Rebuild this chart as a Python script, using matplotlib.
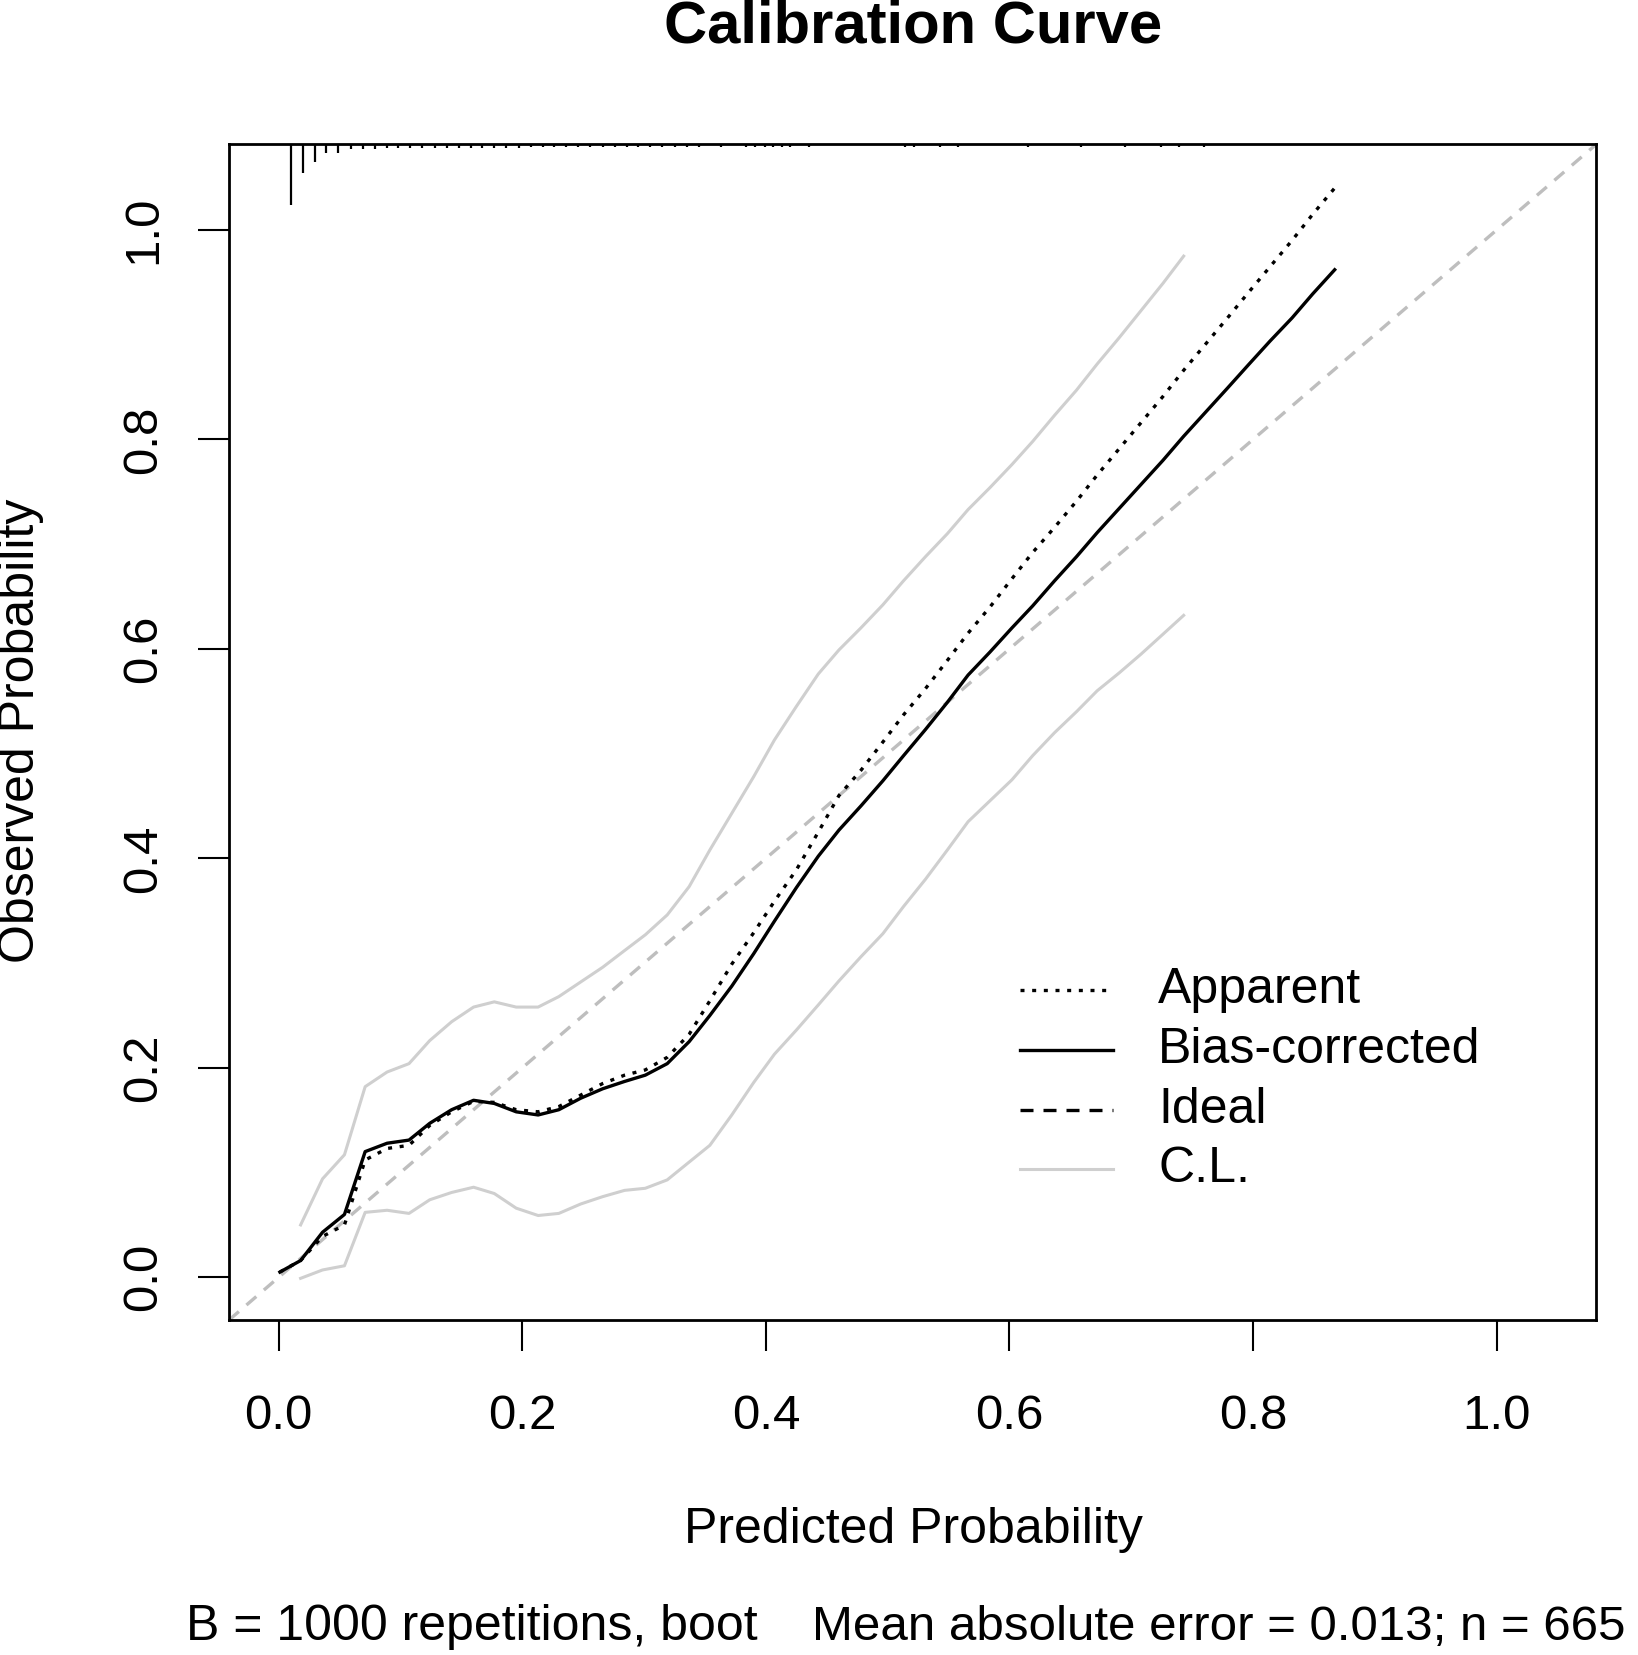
import matplotlib
matplotlib.use("Agg")
import matplotlib.pyplot as plt

plt.rcParams['font.family'] = ['Liberation Sans', 'DejaVu Sans']

# grid of predicted probabilities where the curves are evaluated
pred = [0.001, 0.018, 0.036, 0.054, 0.071, 0.089, 0.107, 0.124, 0.142, 0.160,
        0.177, 0.195, 0.213, 0.230, 0.248, 0.266, 0.284, 0.301, 0.319, 0.337,
        0.354, 0.372, 0.390, 0.407, 0.425, 0.443, 0.460, 0.478, 0.496, 0.513,
        0.531, 0.549, 0.566, 0.584, 0.602, 0.619, 0.637, 0.655, 0.672, 0.690,
        0.708, 0.726, 0.743, 0.761, 0.779, 0.796, 0.814, 0.832, 0.849, 0.867]

apparent = [0.005, 0.016, 0.039, 0.050, 0.112, 0.123, 0.126, 0.145, 0.158, 0.168,
            0.167, 0.160, 0.158, 0.163, 0.174, 0.185, 0.193, 0.198, 0.210, 0.232,
            0.264, 0.299, 0.329, 0.359, 0.389, 0.425, 0.460, 0.484, 0.511, 0.537,
            0.562, 0.589, 0.615, 0.640, 0.667, 0.692, 0.716, 0.741, 0.766, 0.791,
            0.816, 0.841, 0.866, 0.891, 0.916, 0.940, 0.965, 0.990, 1.015, 1.040]

bias_corrected = [0.005, 0.016, 0.043, 0.060, 0.120, 0.128, 0.131, 0.147, 0.160, 0.169,
                  0.166, 0.158, 0.155, 0.160, 0.171, 0.180, 0.187, 0.193, 0.204, 0.225,
                  0.250, 0.278, 0.309, 0.340, 0.372, 0.402, 0.427, 0.450, 0.474, 0.498,
                  0.523, 0.549, 0.575, 0.597, 0.620, 0.641, 0.665, 0.688, 0.711, 0.734,
                  0.757, 0.780, 0.803, 0.826, 0.849, 0.871, 0.894, 0.916, 0.939, 0.962]

# confidence limits cover pred[1:43]
cl_upper = [0.050, 0.094, 0.117, 0.182, 0.196, 0.204, 0.226, 0.244, 0.258, 0.263,
            0.258, 0.258, 0.268, 0.282, 0.296, 0.312, 0.327, 0.346, 0.373, 0.408,
            0.443, 0.478, 0.513, 0.545, 0.576, 0.599, 0.620, 0.642, 0.665, 0.688,
            0.710, 0.733, 0.754, 0.776, 0.798, 0.823, 0.847, 0.872, 0.897, 0.923,
            0.949, 0.975]
cl_lower = [-0.001, 0.007, 0.011, 0.062, 0.064, 0.061, 0.074, 0.081, 0.086, 0.080,
            0.066, 0.059, 0.061, 0.070, 0.077, 0.083, 0.085, 0.093, 0.110, 0.126,
            0.155, 0.186, 0.213, 0.236, 0.260, 0.283, 0.306, 0.328, 0.354, 0.380,
            0.408, 0.435, 0.455, 0.475, 0.498, 0.520, 0.540, 0.560, 0.577, 0.595,
            0.614, 0.632]

# distribution of predicted risks (spikes hanging from the top of the box)
rug_x = [0.010, 0.020, 0.030, 0.039, 0.049, 0.059, 0.069, 0.079, 0.089, 0.098,
         0.108, 0.118, 0.128, 0.138, 0.148, 0.158, 0.167, 0.177, 0.187, 0.197,
         0.207, 0.217, 0.226, 0.236, 0.246, 0.256, 0.266, 0.276, 0.286, 0.295,
         0.305, 0.315, 0.325, 0.335, 0.345, 0.363, 0.384, 0.391, 0.399, 0.406,
         0.413, 0.420, 0.435, 0.514, 0.522, 0.543, 0.558, 0.615, 0.659, 0.695,
         0.724, 0.739, 0.760]
rug_len = [0.058, 0.027, 0.017, 0.0085, 0.0085, 0.004, 0.004, 0.004, 0.0035, 0.0035,
           0.003, 0.003, 0.003, 0.003, 0.003, 0.003, 0.003, 0.003, 0.003, 0.003,
           0.0025, 0.0025, 0.0025, 0.0025, 0.0025, 0.0025, 0.0025, 0.0025, 0.0025, 0.0025,
           0.0025, 0.0025, 0.0025, 0.0025, 0.0025, 0.002, 0.002, 0.002, 0.002, 0.002,
           0.002, 0.002, 0.002, 0.002, 0.002, 0.002, 0.002, 0.002, 0.002, 0.002,
           0.002, 0.002, 0.002]

legend_labels = ['Apparent', 'Bias-corrected', 'Ideal', 'C.L.']
ticks = [0.0, 0.2, 0.4, 0.6, 0.8, 1.0]
lim = (-0.0408, 1.0816)

fs = 36
lw = 2.4
dotted = (0, (1.2, 2.3))
dashed = (0, (3.9, 3.0))
light = '#CFCFCF'

fig = plt.figure(figsize=(16.38, 16.55), dpi=100)
ax = fig.add_axes([0.1398, 0.2024, 0.8346, 0.7103])
ax.set_xlim(lim)
ax.set_ylim(lim)

ax.plot(lim, lim, color='#BEBEBE', lw=lw, linestyle=dashed)
ax.plot(pred[1:43], cl_upper, color=light, lw=2.2)
ax.plot(pred[1:43], cl_lower, color=light, lw=2.2)
ax.plot(pred, apparent, color='black', lw=lw, linestyle=dotted)
ax.plot(pred, bias_corrected, color='black', lw=lw)

top = lim[1]
ax.vlines(rug_x, [top - l for l in rug_len], top, color='black', lw=1.6)

for s in ax.spines.values():
    s.set_linewidth(2.0)
ax.set_xticks(ticks)
ax.set_yticks(ticks)
ax.set_xticklabels([f'{t:.1f}' for t in ticks])
ax.set_yticklabels([f'{t:.1f}' for t in ticks], rotation=90, va='center')
ax.tick_params(length=22, width=1.5, labelsize=35.5)
ax.tick_params(axis='x', pad=31)
ax.tick_params(axis='y', pad=23)

# legend drawn by hand
leg_styles = [dict(color='black', linestyle=dotted, lw=lw),
              dict(color='black', linestyle='-', lw=lw),
              dict(color='black', linestyle=dashed, lw=lw),
              dict(color=light, linestyle='-', lw=2.2)]
rows = [0.2807, 0.2297, 0.1786, 0.1285]
for lab, st, y in zip(legend_labels, leg_styles, rows):
    ax.plot([0.5786, 0.6467], [y, y], transform=ax.transAxes, **st)
    ax.text(0.6796, y, lab, transform=ax.transAxes, fontsize=fs, va='center', ha='left')

fig.text(0.5574, 0.9835, 'Calibration Curve', fontsize=43, fontweight='bold',
         ha='center', va='center')
fig.text(0.5574, 0.0755, 'Predicted Probability', fontsize=fs, ha='center', va='center')
fig.text(0.0128, 0.5583, 'Observed Probability', fontsize=fs, ha='center', va='center',
         rotation=90)
fig.text(0.4628, 0.0169, 'B = 1000 repetitions, boot', fontsize=fs, ha='right', va='center')
fig.text(0.4960, 0.0169, 'Mean absolute error = 0.013; n = 665', fontsize=35.5,
         ha='left', va='center')

fig.savefig('out.png', dpi=100)
